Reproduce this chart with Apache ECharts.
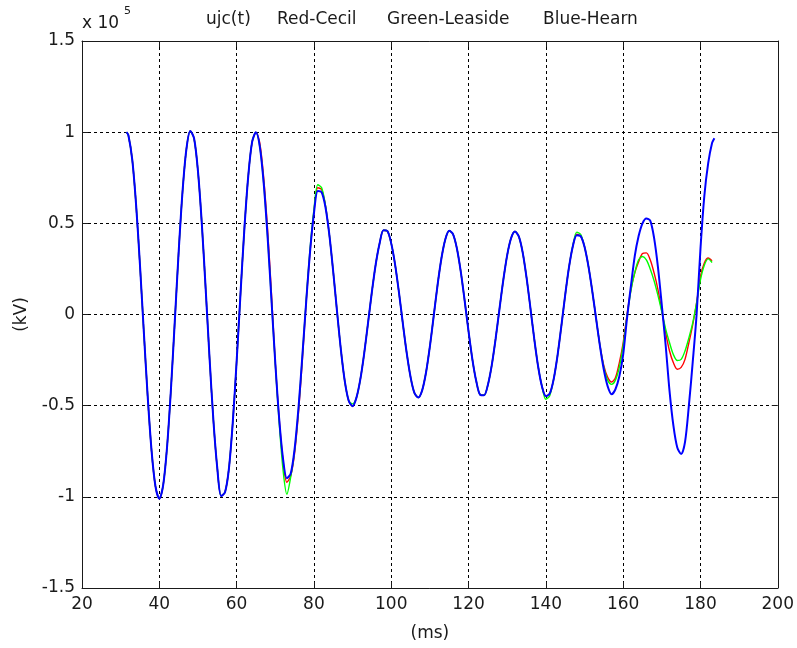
<!DOCTYPE html>
<html>
<head>
<meta charset="utf-8">
<title>ujc(t)</title>
<script src="https://cdn.jsdelivr.net/npm/echarts@6/dist/echarts.min.js"></script>
<style>
  html, body { margin: 0; padding: 0; background: #ffffff; }
  #chart { width: 797px; height: 648px; }
</style>
</head>
<body>
<div id="chart"></div>
<script>
// Sample times (ms)
const timeMs = [31.5,
  32, 33, 34, 35, 36, 37, 38, 39, 40, 41, 42, 43, 44, 45, 46, 47, 48, 49, 50,
  51, 52, 53, 54, 55, 56, 57, 58, 59, 60, 61, 62, 63, 64, 65, 66, 67, 68, 69, 70,
  71, 72, 73, 74, 75, 76, 77, 78, 79, 80, 81, 82, 83, 84, 85, 86, 87, 88, 89, 90,
  91, 92, 93, 94, 95, 96, 97, 98, 99, 100, 101, 102, 103, 104, 105, 106, 107, 108, 109, 110,
  111, 112, 113, 114, 115, 116, 117, 118, 119, 120, 121, 122, 123, 124, 125, 126, 127, 128, 129, 130,
  131, 132, 133, 134, 135, 136, 137, 138, 139, 140, 141, 142, 143, 144, 145, 146, 147, 148, 149, 150,
  151, 152, 153, 154, 155, 156, 157, 158, 159, 160, 161, 162, 163, 164, 165, 166, 167, 168, 169, 170,
  171, 172, 173, 174, 175, 176, 177, 178, 179, 180, 181, 182, 183, 183.6];

// Voltage in units of 1e5 kV
const hearnKV = [1.000,
  0.983, 0.849, 0.600, 0.270, -0.097, -0.452, -0.748, -0.942, -1.010, -0.936,
  -0.728, -0.414, -0.039, 0.341, 0.672, 0.905, 1.007, 0.965, 0.786, 0.497,
  0.138, -0.240, -0.583, -0.843, -0.995, -0.975, -0.847, -0.593, -0.259, 0.112,
  0.467, 0.756, 0.945, 0.999, 0.921, 0.722, 0.431, 0.085, -0.263, -0.569,
  -0.790, -0.898, -0.872, -0.738, -0.514, -0.230, 0.070, 0.345, 0.553, 0.678,
  0.670, 0.587, 0.435, 0.233, 0.012, -0.198, -0.368, -0.473, -0.503, -0.456,
  -0.356, -0.214, -0.046, 0.125, 0.277, 0.391, 0.462, 0.458, 0.390, 0.274,
  0.121, -0.049, -0.211, -0.343, -0.430, -0.455, -0.416, -0.318, -0.175, -0.006,
  0.164, 0.310, 0.413, 0.459, 0.440, 0.361, 0.234, 0.075, -0.093, -0.247,
  -0.366, -0.440, -0.443, -0.386, -0.279, -0.134, 0.030, 0.190, 0.326, 0.418,
  0.455, 0.428, 0.341, 0.203, 0.037, -0.134, -0.285, -0.395, -0.447, -0.434,
  -0.357, -0.228, -0.065, 0.106, 0.261, 0.376, 0.435, 0.430, 0.372, 0.267,
  0.130, -0.023, -0.173, -0.303, -0.394, -0.437, -0.410, -0.340, -0.220, -0.020,
  0.155, 0.320, 0.430, 0.500, 0.527, 0.515, 0.420, 0.260, 0.050, -0.170,
  -0.420, -0.610, -0.730, -0.765, -0.700, -0.500, -0.260, 0.000, 0.360, 0.650,
  0.830, 0.940, 0.967];

const cecilKV = [1.000,
  0.983, 0.849, 0.600, 0.270, -0.097, -0.452, -0.748, -0.942, -1.010, -0.936,
  -0.728, -0.414, -0.039, 0.341, 0.672, 0.905, 1.007, 0.965, 0.786, 0.497,
  0.138, -0.240, -0.583, -0.843, -0.995, -0.975, -0.847, -0.593, -0.259, 0.112,
  0.467, 0.756, 0.945, 0.999, 0.940, 0.750, 0.470, 0.120, -0.263, -0.569,
  -0.800, -0.920, -0.885, -0.760, -0.540, -0.250, 0.070, 0.345, 0.560, 0.695,
  0.685, 0.595, 0.435, 0.233, 0.012, -0.198, -0.368, -0.473, -0.503, -0.456,
  -0.356, -0.214, -0.046, 0.125, 0.277, 0.391, 0.462, 0.458, 0.390, 0.274,
  0.121, -0.049, -0.211, -0.343, -0.430, -0.455, -0.416, -0.318, -0.175, -0.006,
  0.164, 0.310, 0.413, 0.459, 0.440, 0.361, 0.234, 0.075, -0.093, -0.247,
  -0.366, -0.440, -0.443, -0.386, -0.279, -0.134, 0.030, 0.190, 0.326, 0.418,
  0.455, 0.428, 0.341, 0.203, 0.037, -0.134, -0.285, -0.395, -0.447, -0.434,
  -0.357, -0.228, -0.065, 0.106, 0.261, 0.376, 0.440, 0.430, 0.372, 0.267,
  0.130, -0.023, -0.170, -0.280, -0.345, -0.370, -0.347, -0.265, -0.155, 0.000,
  0.137, 0.228, 0.290, 0.334, 0.338, 0.300, 0.228, 0.137, 0.018, -0.100,
  -0.200, -0.265, -0.300, -0.290, -0.246, -0.155, -0.055, 0.064, 0.210, 0.283,
  0.310, 0.295, null];

const leasideKV = [1.000,
  0.983, 0.849, 0.600, 0.270, -0.097, -0.452, -0.748, -0.942, -1.010, -0.936,
  -0.728, -0.414, -0.039, 0.341, 0.672, 0.905, 1.007, 0.965, 0.786, 0.497,
  0.138, -0.240, -0.583, -0.843, -0.995, -0.975, -0.847, -0.593, -0.259, 0.112,
  0.467, 0.756, 0.945, 0.999, 0.921, 0.722, 0.431, 0.085, -0.270, -0.590,
  -0.850, -0.985, -0.890, -0.745, -0.520, -0.230, 0.080, 0.360, 0.575, 0.712,
  0.695, 0.595, 0.435, 0.233, 0.012, -0.198, -0.368, -0.473, -0.490, -0.456,
  -0.356, -0.214, -0.046, 0.125, 0.277, 0.391, 0.462, 0.458, 0.390, 0.274,
  0.121, -0.049, -0.211, -0.343, -0.430, -0.455, -0.416, -0.318, -0.175, -0.006,
  0.164, 0.310, 0.413, 0.459, 0.440, 0.361, 0.234, 0.075, -0.093, -0.247,
  -0.366, -0.440, -0.443, -0.386, -0.279, -0.134, 0.030, 0.190, 0.326, 0.418,
  0.455, 0.428, 0.341, 0.203, 0.037, -0.134, -0.285, -0.395, -0.465, -0.445,
  -0.357, -0.228, -0.065, 0.106, 0.261, 0.380, 0.452, 0.440, 0.372, 0.267,
  0.130, -0.023, -0.172, -0.290, -0.360, -0.383, -0.360, -0.290, -0.170, -0.010,
  0.130, 0.230, 0.300, 0.318, 0.300, 0.250, 0.185, 0.105, 0.015, -0.080,
  -0.155, -0.220, -0.252, -0.246, -0.200, -0.128, -0.046, 0.064, 0.190, 0.270,
  0.305, 0.285, null];

const xTicks = { min: 20, max: 200, step: 20 };
const yTicks = { min: -1.5, max: 1.5, step: 0.5 };

const FONT = 'DejaVu Sans';
const INK = '#1a1a1a';

function pairs(values) {
  return timeMs.map((t, i) => [t, values[i]]);
}

const chart = echarts.init(document.getElementById('chart'), null, { renderer: 'canvas' });

const boxAxis = {
  axisLine: { show: true, onZero: false, lineStyle: { color: INK, width: 1 } },
  axisTick: { show: true, inside: true, length: 6, lineStyle: { color: INK } },
  axisLabel: { show: false },
  splitLine: { show: false }
};

chart.setOption({
  animation: false,
  backgroundColor: '#ffffff',
  grid: { left: 82, right: 19, top: 41, bottom: 60, containLabel: false },
  graphic: [
    { type: 'text', left: 206, top: 11, style: { text: 'ujc(t)', font: '17px "DejaVu Sans"', fill: INK } },
    { type: 'text', left: 277, top: 11, style: { text: 'Red-Cecil', font: '17px "DejaVu Sans"', fill: INK } },
    { type: 'text', left: 387, top: 11, style: { text: 'Green-Leaside', font: '17px "DejaVu Sans"', fill: INK } },
    { type: 'text', left: 543, top: 11, style: { text: 'Blue-Hearn', font: '17px "DejaVu Sans"', fill: INK } },
    { type: 'text', left: 82, top: 15, style: { text: 'x 10', font: '17px "DejaVu Sans"', fill: INK } },
    { type: 'text', left: 124, top: 6, style: { text: '5', font: '11px "DejaVu Sans"', fill: INK } }
  ],
  xAxis: [
    {
      type: 'value', position: 'bottom',
      min: xTicks.min, max: xTicks.max, interval: xTicks.step,
      name: '(ms)', nameLocation: 'middle', nameGap: 37,
      nameTextStyle: { fontFamily: FONT, fontSize: 17, color: INK },
      axisLine: { show: true, onZero: false, lineStyle: { color: INK, width: 1 } },
      axisTick: { show: true, inside: true, length: 6, lineStyle: { color: INK } },
      axisLabel: { margin: 8, fontFamily: FONT, fontSize: 17, color: INK },
      splitLine: { show: true, lineStyle: { color: '#000', width: 1, type: [3, 3] } }
    },
    Object.assign({ type: 'value', position: 'top', min: xTicks.min, max: xTicks.max, interval: xTicks.step }, boxAxis)
  ],
  yAxis: [
    {
      type: 'value', position: 'left',
      min: yTicks.min, max: yTicks.max, interval: yTicks.step,
      name: '(kV)', nameLocation: 'middle', nameGap: 52, nameRotate: 90,
      nameTextStyle: { fontFamily: FONT, fontSize: 17, color: INK },
      axisLine: { show: true, onZero: false, lineStyle: { color: INK, width: 1 } },
      axisTick: { show: true, inside: true, length: 6, lineStyle: { color: INK } },
      axisLabel: { margin: 7, fontFamily: FONT, fontSize: 17, color: INK, formatter: v => String(v) },
      splitLine: { show: true, lineStyle: { color: '#000', width: 1, type: [3, 3] } }
    },
    Object.assign({ type: 'value', position: 'right', min: yTicks.min, max: yTicks.max, interval: yTicks.step }, boxAxis)
  ],
  series: [
    { name: 'Red-Cecil', type: 'line', data: pairs(cecilKV), showSymbol: false, smooth: 0.3,
      lineStyle: { color: '#ff0000', width: 1.4 }, z: 2 },
    { name: 'Green-Leaside', type: 'line', data: pairs(leasideKV), showSymbol: false, smooth: 0.3,
      lineStyle: { color: '#00ff00', width: 1.4 }, z: 3 },
    { name: 'Blue-Hearn', type: 'line', data: pairs(hearnKV), showSymbol: false, smooth: 0.3,
      lineStyle: { color: '#0000ff', width: 2 }, z: 4 }
  ]
});
</script>
</body>
</html>
